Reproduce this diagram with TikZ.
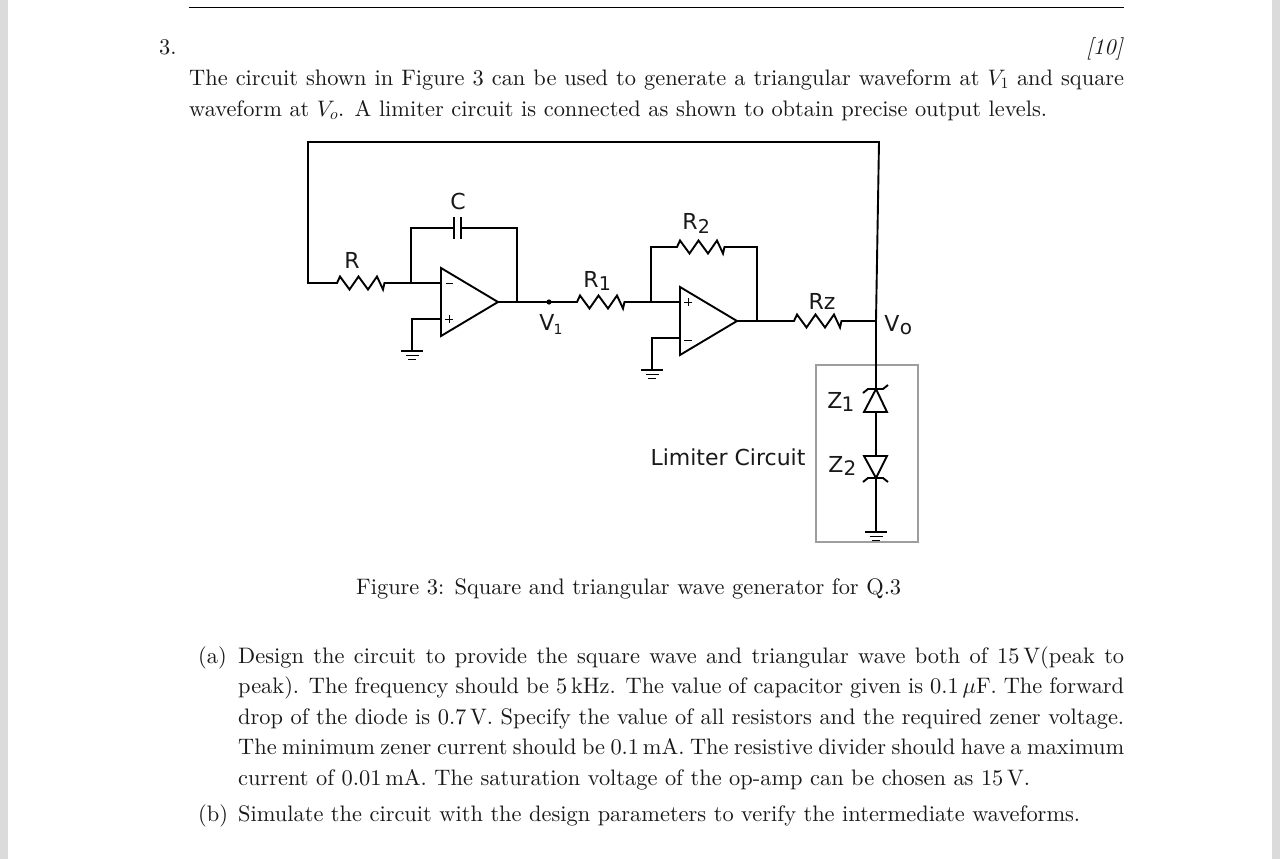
\documentclass[tikz,border=0pt]{standalone}
\usepackage{fontspec}
\setmainfont{lmroman10-regular}[Extension=.otf,ItalicFont=lmroman10-italic]
\newfontfamily\cf{DejaVu Sans}
\DeclareFontFamily{OML}{cmm}{\skewchar\font=127 }
\DeclareFontShape{OML}{cmm}{m}{it}{<-> cmmi10}{}
\DeclareFontFamily{OT1}{cmr}{\hyphenchar\font=45 }
\DeclareFontShape{OT1}{cmr}{m}{n}{<-> cmr10}{}
\DeclareMathSizes{22.4}{22.4}{15.7}{11.2}
\newcommand\zig{-- ++(3,-6.5) -- ++(9.5,13) -- ++(9,-13) -- ++(9.5,13) -- ++(9,-13) -- ++(6,13) -- ++(1.5,-6.5)}
\newcommand\gnd[1]{\draw[wire] (#1) ++(-11,0) -- ++(22,0);\draw[wire] (#1) ++(-6.5,4.5) -- ++(13,0);\draw[wire] (#1) ++(-4,8.5) -- ++(8,0);}
\tikzset{
  wire/.style={line width=1.9pt,black,line join=miter},
  thin wire/.style={line width=1pt,black},
  body/.style={inner sep=0pt,anchor=base west,font=\fontsize{22.4}{26}\selectfont,text=black!90},
  lbl/.style={inner sep=0pt,anchor=center,font=\fontsize{22}{24}\cf,text=black!90},
  sub/.style={inner sep=0pt,anchor=center,font=\fontsize{14}{16}\cf,text=black!90},
}
\begin{document}
\begin{tikzpicture}[x=1pt,y=-1pt]
\useasboundingbox (0,0) rectangle (1280,859);
\fill[white] (0,0) rectangle (1280,859);
\fill[black!14] (0,0) rectangle (8,859);
\fill[black!14] (1272,0) rectangle (1280,859);
\coordinate (rule1) at (189,7.8); \coordinate (rule2) at (1124,7.8);
\draw[line width=.9pt] (rule1) -- (rule2);

% text
\node[body] (qn) at (159,55) {3.};
\node[body,anchor=base east] (marks) at (1124,55) {\textit{[10]}};
\node[body] (t1) at (189,85) {\hbox to 935pt{The circuit shown in Figure 3 can be used to generate a triangular waveform at $V_1$ and square}};
\node[body] (t2) at (189,116) {\hbox to 858pt{waveform at $V_o$. A limiter circuit is connected as shown to obtain precise output levels.}};
\node[body] (cap) at (356,594) {\hbox to 545pt{Figure 3: Square and triangular wave generator for Q.3}};
\node[body] (ala) at (198,663) {(a)};
\node[body] (a1) at (238,663) {\hbox to 886pt{Design the circuit to provide the square wave and triangular wave both of 15\,V(peak to}};
\node[body] (a2) at (238,693) {\hbox to 886pt{peak). The frequency should be 5\,kHz. The value of capacitor given is 0.1\,$\mu$F. The forward}};
\node[body] (a3) at (238,724) {\hbox to 886pt{drop of the diode is 0.7\,V. Specify the value of all resistors and the required zener voltage.}};
\node[body] (a4) at (238,754) {\hbox to 886pt{The minimum zener current should be 0.1\,mA. The resistive divider should have a maximum}};
\node[body] (a5) at (238,785) {\hbox to 792pt{current of 0.01\,mA. The saturation voltage of the op-amp can be chosen as 15\,V.}};
\node[body] (alb) at (198,821) {(b)};
\node[body] (b1) at (238,821) {\hbox to 842pt{Simulate the circuit with the design parameters to verify the intermediate waveforms.}};

% limiter box
\node[draw=black!38,line width=2pt,minimum width=102pt,minimum height=177pt,inner sep=0pt] (box) at (867,453) {};

% coordinates
\coordinate (fbTR) at (879,142); \coordinate (fbTL) at (308,142); \coordinate (fbBL) at (308,283);
\coordinate (Rl) at (337,283); \coordinate (Rr) at (383,283);
\coordinate (J1) at (411,283); \coordinate (cTL) at (411,228); \coordinate (cTR) at (517,228);
\coordinate (capL) at (454,228); \coordinate (capR) at (461,228);
\coordinate (A1m) at (441,283); \coordinate (A1p) at (441,319); \coordinate (A1o) at (498,302);
\coordinate (J2) at (517,302); \coordinate (G1c) at (412,319); \coordinate (G1) at (412,351);
\coordinate (R1l) at (577,302); \coordinate (R1r) at (623,302);
\coordinate (J3) at (651,302); \coordinate (r2TL) at (651,247); \coordinate (r2TR) at (757,247);
\coordinate (R2l) at (677,247); \coordinate (R2r) at (723,247);
\coordinate (A2p) at (680,302); \coordinate (A2m) at (680,338); \coordinate (A2o) at (737,321);
\coordinate (J4) at (757,321); \coordinate (G2c) at (652,338); \coordinate (G2) at (652,370);
\coordinate (Rzl) at (794,321); \coordinate (Rzr) at (841,321); \coordinate (Vo) at (876,321);
\coordinate (Z1a) at (876,389); \coordinate (Z1b) at (876,412);
\coordinate (Z2a) at (876,456); \coordinate (Z2b) at (876,478); \coordinate (G3) at (876,532);

% op-amps
\draw[wire,line join=miter] (441,268) coordinate (A1t) -- (441,336) -- (A1o) -- cycle;
\draw[wire,line join=miter] (680,287) coordinate (A2t) -- (680,355) -- (A2o) -- cycle;
\draw[thin wire] (445.5,283.5) -- (452.5,283.5);
\draw[thin wire] (445,319) -- (453,319) (449,315) -- (449,323);
\draw[thin wire] (684,302) -- (692,302) (688,298) -- (688,306);
\draw[thin wire] (684,340) -- (692,340);

% wiring
\draw[wire] (Vo) -- (fbTR) -- (fbTL) -- (fbBL) -- (Rl) \zig -- (J1) -- (A1m);
\draw[wire] (J1) -- (cTL) -- (capL);
\draw[wire] (capR) -- (cTR) -- (J2);
\draw[wire] (454,217) -- (454,239) (461,217) -- (461,239);
\draw[wire] (A1p) -- (G1c) -- (G1);
\gnd{G1}
\draw[wire] (A1o) -- (R1l) \zig -- (J3) -- (A2p);
\draw[wire] (J3) -- (r2TL) -- (R2l) \zig -- (r2TR) -- (J4);
\draw[wire] (A2m) -- (G2c) -- (G2);
\gnd{G2}
\draw[wire] (A2o) -- (Rzl) \zig -- (Vo);
\fill (549,302) coordinate (V1dot) circle (2.6);

% limiter
\draw[wire] (Vo) -- (Z1a);
\draw[wire,line join=miter] (Z1a) -- (887,412) -- (864,412) -- cycle;
\draw[wire] (863,393) -- (868,389) -- (883,389) -- (888,385);
\draw[wire] (Z1b) -- (Z2a);
\draw[wire,line join=miter] (Z2b) -- (887,456) -- (864,456) -- cycle;
\draw[wire] (863,482) -- (868,478) -- (883,478) -- (888,482);
\draw[wire] (Z2b) -- (G3);
\gnd{G3}

% labels
\node[lbl] (lC) at (458,201) {C};
\node[lbl] (lR) at (352,260) {R};
\node[lbl] (lV1) at (547,322) {V};
\node[sub] (lV1s) at (558,329) {1};
\node[lbl] (lR1) at (591,279) {R};
\node[sub,font=\fontsize{19}{20}\cf] (lR1s) at (605,284) {1};
\node[lbl] (lR2) at (690,221) {R};
\node[sub,font=\fontsize{19}{20}\cf] (lR2s) at (704,226) {2};
\node[lbl] (lRz) at (822,301) {Rz};
\node[lbl] (lVo) at (892,323) {V};
\node[sub,font=\fontsize{20}{20}\cf] (lVos) at (906,329) {o};
\node[lbl] (lZ1) at (835,400) {Z};
\node[sub,font=\fontsize{20}{20}\cf] (lZ1s) at (848,404) {1};
\node[lbl] (lZ2) at (836,464) {Z};
\node[sub,font=\fontsize{20}{20}\cf] (lZ2s) at (850,468) {2};
\node[lbl] (lim) at (728,457) {Limiter Circuit};
\end{tikzpicture}
\end{document}
